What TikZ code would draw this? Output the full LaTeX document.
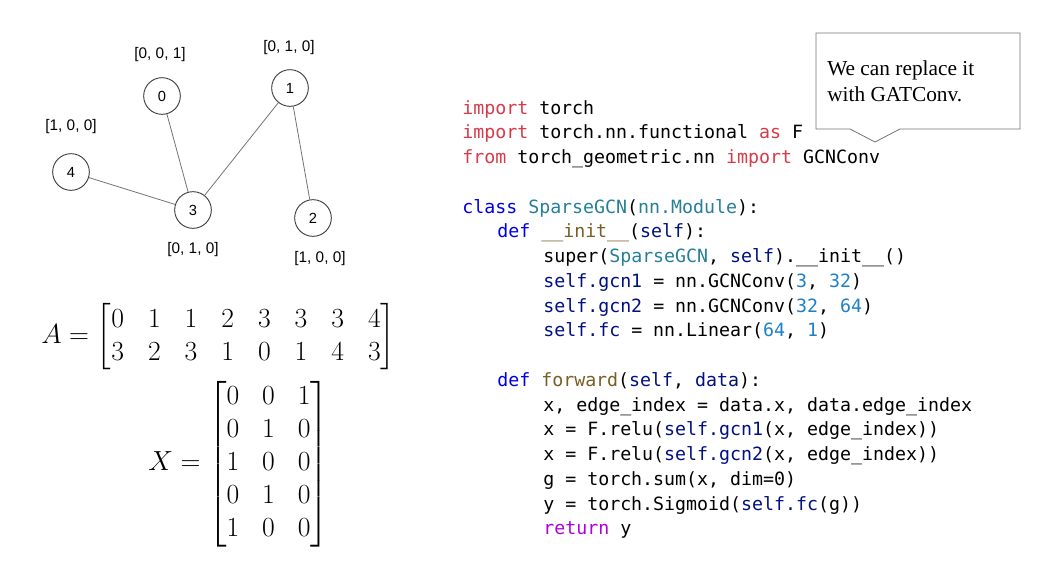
\documentclass[tikz,border=0pt]{standalone}
\usepackage{amsmath}
\usepackage{fontspec}
\newfontfamily\codefont{DejaVu Sans Mono}
\newfontfamily\labelfont{Liberation Sans}
\newfontfamily\notefont{Liberation Serif}
\definecolor{kwred}{RGB}{215,58,73}
\definecolor{kwblue}{RGB}{0,0,230}
\definecolor{clsteal}{RGB}{38,127,153}
\definecolor{fnbrown}{RGB}{121,94,38}
\definecolor{selfnavy}{RGB}{0,16,128}
\definecolor{numblue}{RGB}{30,128,200}
\definecolor{retpurple}{RGB}{175,0,219}
\def\kw#1{\textcolor{kwred}{#1}}
\def\kd#1{\textcolor{kwblue}{#1}}
\def\cls#1{\textcolor{clsteal}{#1}}
\def\fn#1{\textcolor{fnbrown}{#1}}
\def\slf#1{\textcolor{selfnavy}{#1}}
\def\num#1{\textcolor{numblue}{#1}}
\def\ret#1{\textcolor{retpurple}{#1}}
\tikzset{
	vtx/.style={circle,fill=white,draw=black!75,line width=0.7pt,inner sep=0pt,minimum size=27.5pt,font=\labelfont\fontsize{11}{13}\selectfont},
	feat/.style={inner sep=0pt,font=\labelfont\fontsize{11.5}{14}\selectfont},
	link/.style={draw=black!55,line width=0.6pt},
	codeline/.style={anchor=base west,inner sep=0pt,font=\codefont\fontsize{13.7}{17}\selectfont},
	mat/.style={anchor=west,inner sep=0pt,font=\fontsize{20}{24.75}\selectfont},
	note/.style={anchor=north west,inner sep=0pt,align=left,font=\notefont\fontsize{16}{19.5}\selectfont},
	}

\begin{document}
\begin{tikzpicture}[x=0.75pt,y=-0.75pt]
\useasboundingbox (0,0) rectangle (1041,562);

% graph
\node (n0) at (162,96) [vtx] {0};
\node (n1) at (290,88) [vtx] {1};
\node (n2) at (313,218) [vtx] {2};
\node (n3) at (193,210) [vtx] {3};
\node (n4) at (71,172) [vtx] {4};
\draw[link] (n0) -- (n3);
\draw[link] (n1) -- (n3);
\draw[link] (n1) -- (n2);
\draw[link] (n4) -- (n3);

\node (f0) at (160,55) [feat] {[0, 0, 1]};
\node (f1) at (289,48) [feat] {[0, 1, 0]};
\node (f4) at (71,127) [feat] {[1, 0, 0]};
\node (f3) at (193,250) [feat] {[0, 1, 0]};
\node (f2) at (320,259) [feat] {[1, 0, 0]};

% matrices
\node (adj) at (41,337) [mat] {\setlength{\arraycolsep}{9pt}$A = \begin{bmatrix} 0 & 1 & 1 & 2 & 3 & 3 & 3 & 4\\ 3 & 2 & 3 & 1 & 0 & 1 & 4 & 3 \end{bmatrix}$};
\node (feats) at (148,464) [mat] {\setlength{\arraycolsep}{8.6pt}$X = \begin{bmatrix} 0 & 0 & 1\\ 0 & 1 & 0\\ 1 & 0 & 0\\ 0 & 1 & 0\\ 1 & 0 & 0 \end{bmatrix}$};

% code
\node (line0) at (462,114) [codeline] {\kw{import} torch};
\node (line1) at (462,138.75) [codeline] {\kw{import} torch.nn.functional \kw{as} F};
\node (line2) at (462,163.5) [codeline] {\kw{from} torch\_geometric.nn \kw{import} GCNConv};
\node (line4) at (462,213) [codeline] {\kd{class} \cls{SparseGCN}(\cls{nn.Module}):};
\node (line5) at (497,237.75) [codeline] {\kd{def} \fn{\_\_init\_\_}(\slf{self}):};
\node (line6) at (543,262.5) [codeline] {super(\cls{SparseGCN}, \slf{self}).\_\_init\_\_()};
\node (line7) at (543,287.25) [codeline] {\slf{self.gcn1} = nn.GCNConv(\num{3}, \num{32})};
\node (line8) at (543,312) [codeline] {\slf{self.gcn2} = nn.GCNConv(\num{32}, \num{64})};
\node (line9) at (543,336.75) [codeline] {\slf{self.fc} = nn.Linear(\num{64}, \num{1})};
\node (line11) at (497,386.25) [codeline] {\kd{def} \fn{forward}(\slf{self}, \slf{data}):};
\node (line12) at (543,411) [codeline] {x, edge\_index = data.x, data.edge\_index};
\node (line13) at (543,435.75) [codeline] {x = F.relu(\slf{self.gcn1}(x, edge\_index))};
\node (line14) at (543,460.5) [codeline] {x = F.relu(\slf{self.gcn2}(x, edge\_index))};
\node (line15) at (543,485.25) [codeline] {g = torch.sum(x, dim=0)};
\node (line16) at (543,510) [codeline] {y = torch.Sigmoid(\slf{self.fc}(g))};
\node (line17) at (543,534.75) [codeline] {\ret{return} y};

% callout
\draw[draw=black!55,line width=0.6pt,fill=white] (816,33) -- (1020,33) -- (1020,129) -- (900,129) -- (875,142) -- (850,129) -- (816,129) -- cycle;
\node (remark) at (827,60) [note] {We can replace it\\with GATConv.};
\end{tikzpicture}
\end{document}
